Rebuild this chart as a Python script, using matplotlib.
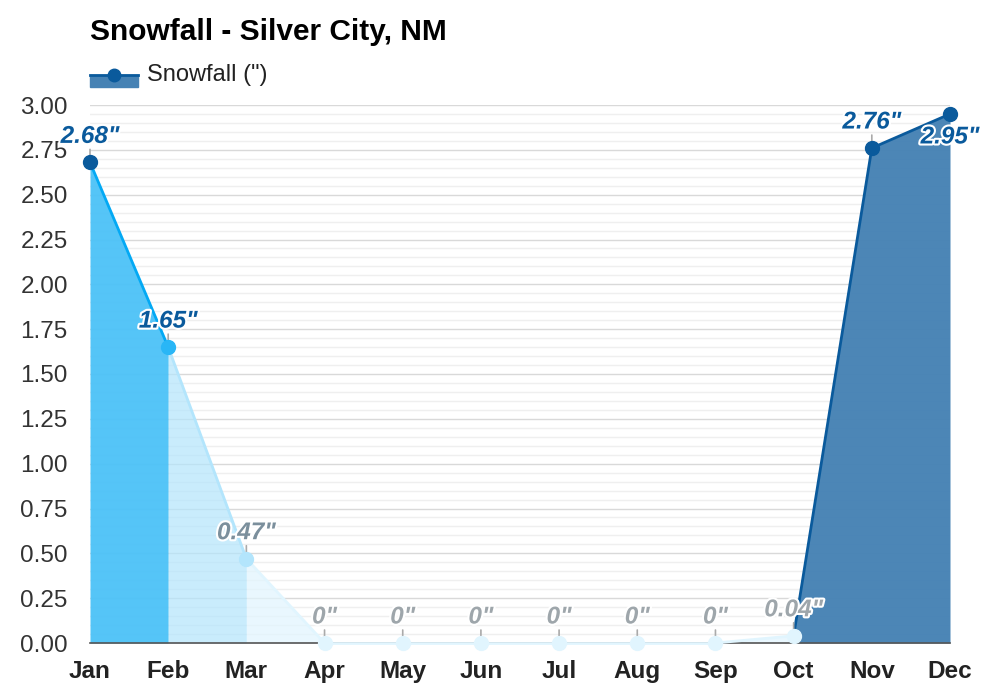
import matplotlib
matplotlib.use("Agg")
import matplotlib.pyplot as plt
import matplotlib.patheffects as pe
from matplotlib.patches import Rectangle
from matplotlib.lines import Line2D
import numpy as np

months = ["Jan", "Feb", "Mar", "Apr", "May", "Jun", "Jul", "Aug", "Sep", "Oct", "Nov", "Dec"]
snowfall = [2.68, 1.65, 0.47, 0, 0, 0, 0, 0, 0, 0.04, 2.76, 2.95]
labels = ['2.68"', '1.65"', '0.47"', '0"', '0"', '0"', '0"', '0"', '0"', '0.04"', '2.76"', '2.95"']
yticks = [0, 0.25, 0.5, 0.75, 1.0, 1.25, 1.5, 1.75, 2.0, 2.25, 2.5, 2.75, 3.0]

plt.rcParams['font.family'] = ['Liberation Sans', 'DejaVu Sans']


def style(v):
    # line, fill, fill alpha, marker, label colour
    if v >= 2:
        return '#0a5a9c', '#4682b4', 0.97, '#0a5a9c', '#0a5a9c'
    if v >= 1:
        return '#03a9f4', '#4fc3f7', 0.97, '#29b6f6', '#0a5a9c'
    if v >= 0.25:
        return '#b3e5fc', '#b3e5fc', 0.7, '#b3e5fc', '#7b8f9c'
    return '#e1f5fe', '#e1f5fe', 0.7, '#e1f5fe', '#9ea6ab'


fig = plt.figure(figsize=(10, 7), dpi=100)
ax = fig.add_axes([0.09, 57 / 700, 0.86, 538 / 700])
x = np.arange(len(months))
ax.set_xlim(0, len(months) - 1)
ax.set_ylim(0, 3.0)

# grid
for yv in np.arange(0, 3.0001, 0.05):
    major = abs(yv / 0.25 - round(yv / 0.25)) < 1e-6
    ax.axhline(yv, color='#d9d9d9' if major else '#efefef', lw=1, zorder=0)

# fill: merge consecutive segments sharing a style
seg_styles = [style(snowfall[i + 1]) for i in range(len(x) - 1)]
start = 0
for i in range(len(seg_styles)):
    if i == len(seg_styles) - 1 or seg_styles[i + 1] != seg_styles[start]:
        lc, fc, fa, mc, tc = seg_styles[start]
        xs = x[start:i + 2]
        ys = snowfall[start:i + 2]
        ax.fill_between(xs, ys, 0, color=fc, alpha=fa, lw=0, zorder=1)
        start = i + 1

ax.plot([x[0], x[-1]], [0, 0], color='#555555', lw=1.2, zorder=2, clip_on=False)
for i in range(len(x) - 1):
    lc, fc, fa, mc, tc = seg_styles[i]
    ax.plot([x[i], x[i + 1]], [snowfall[i], snowfall[i + 1]], color=lc, lw=2,
            zorder=3, solid_capstyle='round', clip_on=False)

# points and labels
for i, v in enumerate(snowfall):
    lc, fc, fa, mc, tc = style(v)
    ax.plot(x[i], v, 'o', color=mc, ms=10, zorder=5, clip_on=False)
    if i == len(x) - 1:
        off = -23
    else:
        off = 26
        ax.annotate('', xy=(x[i], v), xytext=(0, 13), textcoords='offset pixels',
                    arrowprops=dict(arrowstyle='-', color='#aaaaaa', lw=1.2,
                                    shrinkA=0, shrinkB=0), zorder=4)
    t = ax.annotate(labels[i], xy=(x[i], v), xytext=(0, off), textcoords='offset pixels',
                    ha='center', va='center', fontsize=17.5, fontweight='bold',
                    fontstyle='italic', color=tc, zorder=6, annotation_clip=False)
    t.set_path_effects([pe.withStroke(linewidth=3, foreground='white')])

ax.set_xticks(x)
ax.set_xticklabels(months, fontsize=17.5, fontweight='bold', color='#222222')
ax.set_yticks(yticks)
ax.set_yticklabels([f"{v:.2f}" for v in yticks], fontsize=17.5, color='#333333')
ax.tick_params(axis='both', length=0)
ax.tick_params(axis='x', pad=12)
ax.tick_params(axis='y', pad=16)
for s in ax.spines.values():
    s.set_visible(False)

# title
fig.text(0.09, 1 - 32 / 700, "Snowfall - Silver City, NM", fontsize=21.5,
         fontweight='bold', va='center', ha='left', color='#000000')

# legend
fig.patches.append(Rectangle((90 / 1000, 1 - 87 / 700), 48 / 1000, 12 / 700,
                             transform=fig.transFigure, color='#4682b4', zorder=1))
fig.lines.append(Line2D([90 / 1000, 138 / 1000], [1 - 75 / 700] * 2,
                        transform=fig.transFigure, color='#0a5a9c', lw=2))
fig.lines.append(Line2D([114 / 1000], [1 - 75 / 700], transform=fig.transFigure,
                        marker='o', ms=9, color='#0a5a9c'))
fig.text(147 / 1000, 1 - 75 / 700, 'Snowfall (")', fontsize=17, va='center',
         ha='left', color='#222222')

fig.savefig("out.png", dpi=100)
